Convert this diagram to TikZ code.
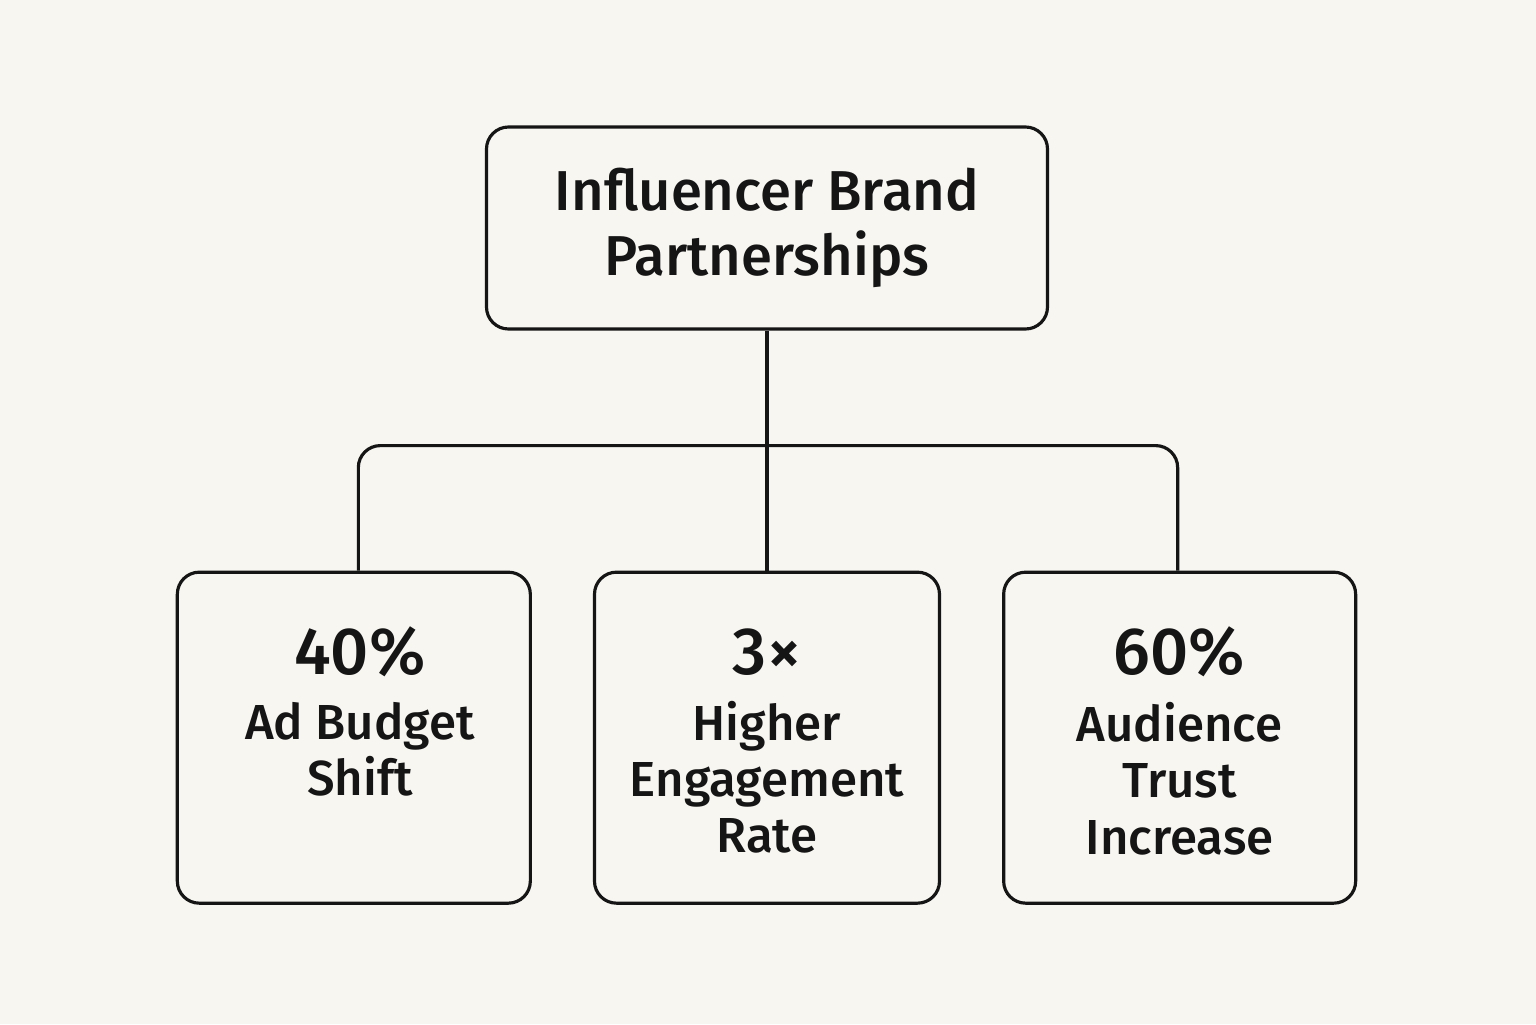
\documentclass[tikz,border=0pt]{standalone}
\usepackage{fontspec}
\setmainfont{Fira Sans}[UprightFont=* Medium, BoldFont=* SemiBold]
\usetikzlibrary{positioning, calc}
\definecolor{paper}{HTML}{F8F6F1}
\definecolor{ink}{HTML}{151515}

\begin{document}
\begin{tikzpicture}[
    node distance=2.40cm and 0.61cm,
    box/.style={rectangle, draw=ink, line width=0.9pt, rounded corners=0.22cm,
                minimum width=3.5cm, minimum height=3.31cm},
    head/.style={rectangle, draw=ink, line width=0.9pt, rounded corners=0.22cm,
                 minimum width=5.61cm, minimum height=2.02cm, align=center,
                 text=ink, font=\fontsize{16}{18.5}\selectfont},
    num/.style={inner sep=0pt, text=ink, font=\fontsize{19}{20}\selectfont},
    label/.style={inner sep=0pt, align=center, text=ink,
                  font=\fontsize{14}{16}\selectfont},
    link/.style={draw=ink, line width=0.9pt, rounded corners=0.22cm}
]
  \fill[paper] (-7.67,2.28) rectangle (7.69,-7.96);
  \useasboundingbox (-7.67,2.28) rectangle (7.69,-7.96);

  \node[head] (brand) {Influencer Brand\\Partnerships};

  % three result boxes
  \node[box, below=of brand, minimum width=3.45cm] (engage) {};
  \node[box, left=of engage, minimum width=3.53cm] (budget) {};
  \node[box, right=of engage, minimum width=3.52cm] (trust) {};

  % figures and captions
  \node[num, anchor=base] (budgetnum) at ($(budget.north)+(0.06,-1.04)$) {40\%};
  \node[label, below=0.24cm of budgetnum] (budgettxt) {Ad Budget\\Shift};
  \node[num, anchor=base] (engagenum) at ($(engage.north)+(0,-1.04)$) {3×};
  \node[label, below=0.24cm of engagenum] (engagetxt) {Higher\\Engagement\\Rate};
  \node[num, anchor=base] (trustnum) at ($(trust.north)+(0,-1.04)$) {60\%};
  \node[label, below=0.24cm of trustnum] (trusttxt) {Audience\\Trust\\Increase};

  % connectors
  \coordinate (bar) at ($(brand.south)+(0,-1.15)$);
  \draw[link] (brand.south) -- (engage.north);
  \draw[link] ($(budget.north)+(0.045,0)$) |- (bar) -| ($(trust.north)+(-0.02,0)$);
\end{tikzpicture}
\end{document}
